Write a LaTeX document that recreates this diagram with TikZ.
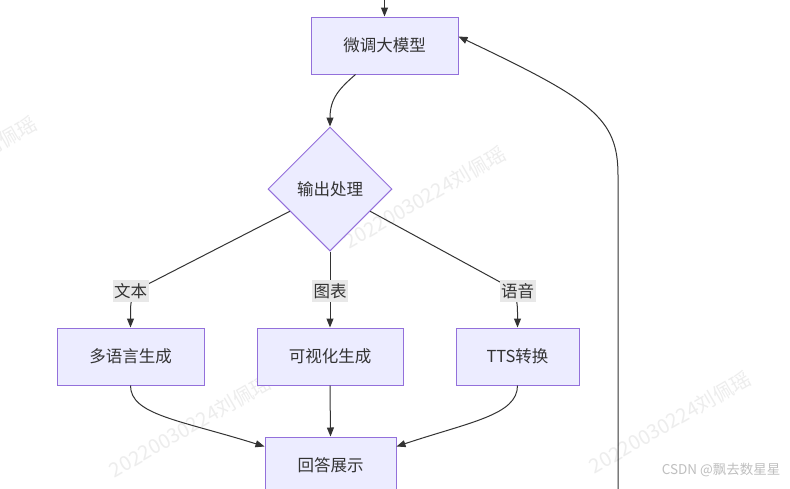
\documentclass[tikz,border=0pt]{standalone}
\usepackage{fontspec}
\setmainfont{Noto Sans CJK SC}
\usetikzlibrary{arrows.meta,shapes.geometric}
\definecolor{nodefill}{HTML}{ECECFF}
\definecolor{nodeborder}{HTML}{9370DB}
\definecolor{txt}{HTML}{333333}
\definecolor{lblbg}{HTML}{E8E8E8}
\begin{document}
\begin{tikzpicture}[x=1pt,y=-1pt,
  box/.style={draw=nodeborder, fill=nodefill, line width=1pt, minimum height=57pt, text=txt, font=\fontsize{16.5}{19}\selectfont, inner sep=0pt},
  dec/.style={diamond, aspect=1, draw=nodeborder, fill=nodefill, line width=1pt, minimum width=124pt, minimum height=124pt, inner sep=0pt, text=txt, font=\fontsize{16.5}{19}\selectfont},
  lbl/.style={fill=lblbg, text=txt, font=\fontsize{16.5}{19}\selectfont, inner xsep=1.5pt, inner ysep=3pt},
  edge/.style={draw=txt, line width=1pt, -{Triangle[length=9pt,width=7pt]}},
  wm/.style={text=black!7, font=\fontsize{20}{24}\selectfont, rotate=30},
]
\useasboundingbox (0,0) rectangle (790,488);
\fill[white] (0,0) rectangle (790,488);

% watermarks
\node[wm] (wm1) at (-44,167) {20220030224刘佩瑶};
\node[wm] (wm2) at (425,197) {20220030224刘佩瑶};
\node[wm] (wm3) at (190,426) {20220030224刘佩瑶};
\node[wm] (wm4) at (670,422) {20220030224刘佩瑶};

% nodes
\node[box, minimum width=147pt] (ft) at (384.5,45.5) {微调大模型};
\node[dec] (dia) at (330,189) {输出处理};
\node[box, minimum width=147pt] (b1) at (130.5,356.5) {多语言生成};
\node[box, minimum width=146pt] (b2) at (330,356.5) {可视化生成};
\node[box, minimum width=123pt] (b3) at (517.5,356.5) {TTS转换};
\node[box, minimum width=131pt] (b4) at (330.5,465.5) {回答展示};

\coordinate (topin) at (384.5,-2);
\coordinate (loopin) at (618,492);

% edges
\draw[edge] (topin) -- (ft.north);
\draw[edge] ([xshift=-29pt]ft.south) .. controls (340,88) and (330,98) .. (dia.north);
\draw[edge] (dia.209) -- (152,282) .. controls (132,292) and (130.5,298) .. (130.5,312) -- (b1.north);
\draw[edge] (dia.south) -- (b2.north);
\draw[edge] (dia.331) -- (500,282) .. controls (515,291) and (517.5,298) .. (517.5,312) -- (b3.north);
\draw[edge] (b1.south) .. controls (130.5,415) and (180,420) .. ([yshift=-10pt]b4.north west);
\draw[edge] (b2.south) -- (b4.north);
\draw[edge] (b3.south) .. controls (517.5,415) and (470,422) .. ([yshift=-10pt]b4.north east);
\draw[edge] (loopin) -- (618,175) .. controls (618,118) and (592,100) .. ([yshift=-20pt]ft.north east);

% edge labels
\node[lbl] (l1) at (130.5,291) {文本};
\node[lbl] (l2) at (330,291) {图表};
\node[lbl] (l3) at (517.5,291) {语音};

% footer
\node[text=black!25, font=\fontsize{13.5}{15}\selectfont, anchor=east] (csdn) at (784,470) {CSDN @飘去数星星};
\end{tikzpicture}
\end{document}
